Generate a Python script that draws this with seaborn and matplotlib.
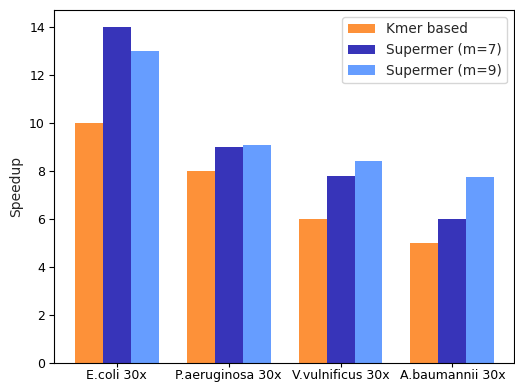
import matplotlib
matplotlib.use("Agg")
import matplotlib.pyplot as plt
import seaborn as sns
import pandas as pd

categories = ["E.coli 30x", "P.aeruginosa 30x", "V.vulnificus 30x", "A.baumannii 30x"]
series_names = ["Kmer based", "Supermer (m=7)", "Supermer (m=9)"]
kmer_based = [10, 8, 6, 5]
supermer_m7 = [14, 9, 7.8, 6]
supermer_m9 = [13, 9.08, 8.4, 7.75]
colors = ["#FD9139", "#3734B9", "#669DFF"]

rows = []
for name, vals in zip(series_names, [kmer_based, supermer_m7, supermer_m9]):
    for c, v in zip(categories, vals):
        rows.append({"dataset": c, "method": name, "speedup": v})
df = pd.DataFrame(rows)

sns.set_style("white")
plt.rcParams['font.family'] = ['DejaVu Sans']
fig = plt.figure(figsize=(5.15, 3.83), dpi=100)
ax = fig.add_axes([54/515, 20/383, (514-54)/515, (363-10)/383])
sns.barplot(data=df, x="dataset", y="speedup", hue="method", order=categories,
            hue_order=series_names, palette=colors, width=0.75, ax=ax,
            saturation=1, linewidth=0)
ax.set_xlabel("")
ax.set_ylabel("Speedup", fontsize=10)
ax.set_ylim(0, 14.7)
ax.set_xlim(-0.56, 3.55)
ax.set_yticks([0, 2, 4, 6, 8, 10, 12, 14])
ax.tick_params(axis="y", labelsize=9, length=3.5, width=0.8, pad=3,
               direction="out", left=True, colors="black")
ax.tick_params(axis="x", labelsize=9, length=3, width=0.8, pad=1.5,
               direction="out", bottom=True, colors="black")
for s in ax.spines.values():
    s.set_color("black")
    s.set_linewidth(0.8)
leg = ax.legend(loc="upper right", fontsize=9.8, frameon=True)
leg.set_title(None)
fig.savefig("out.png", dpi=100)
